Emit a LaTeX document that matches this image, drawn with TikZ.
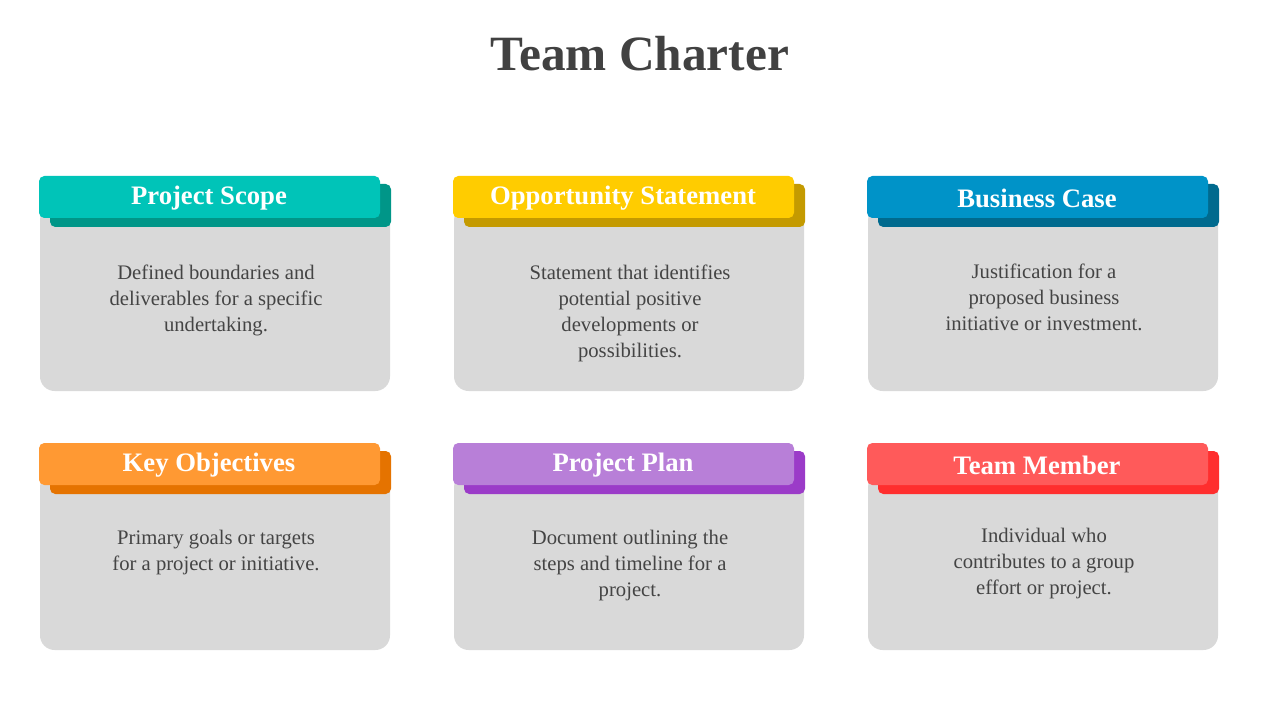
\documentclass[tikz,border=0pt]{standalone}
\usepackage{fontspec}
\setmainfont{Liberation Serif}
\begin{document}
\begin{tikzpicture}[x=0.75pt,y=-0.75pt,
  card/.style={fill=cardgray,rounded corners=11pt},
  hdr/.style={rounded corners=4pt},
  htxt/.style={text=white,font=\fontsize{20}{24}\selectfont\bfseries},
  btxt/.style={text=txtgray,align=center,font=\fontsize{15.5}{19.5}\selectfont}]
\definecolor{cardgray}{HTML}{D9D9D9}
\definecolor{txtgray}{HTML}{444444}
\useasboundingbox[fill=white] (0,0) rectangle (1280,720);
\node (title) at (640,54) {\fontsize{37}{44}\selectfont\bfseries\color{txtgray!95!black}Team Charter};
% args: x-left, y-top of header, front color, shadow color, title, text center y offset, text
\foreach \x/\y/\fc/\sc/\t/\dy/\b in {
 40/176/00C4B8/009688/Project Scope/124/{Defined boundaries and\\deliverables for a specific\\undertaking.},
 454/176/FFCC00/C49A00/Opportunity Statement/137/{Statement that identifies\\potential positive\\developments or\\possibilities.},
 868/176/0093C8/006A8E/Business Case/121/{Justification for a\\proposed business\\initiative or investment.},
 40/443/FF9933/E57300/Key Objectives/110/{Primary goals or targets\\for a project or initiative.},
 454/443/B87FD8/9B3BC8/Project Plan/123/{Document outlining the\\steps and timeline for a\\project.},
 868/443/FF5A5A/FF2E2E/Team Member/121/{Individual who\\contributes to a group\\effort or project.}}{
  \definecolor{fc}{HTML}{\fc}\definecolor{sc}{HTML}{\sc}
  \ifnum\y=176 \def\bot{215}\else\def\bot{207}\fi
  \fill[card] (\x,\y+30) rectangle (\x+350,\y+\bot);
  \fill[hdr,sc] (\x+10,\y+8) rectangle (\x+351,\y+51);
  \fill[hdr,fc] (\x-1,\y) rectangle (\x+340,\y+42);
  \node[htxt] (h\x\y) at (\x+169,\y+22) {\t};
  \node[btxt] (b\x\y) at (\x+176,\y+\dy) {\b};
}
\end{tikzpicture}
\end{document}
